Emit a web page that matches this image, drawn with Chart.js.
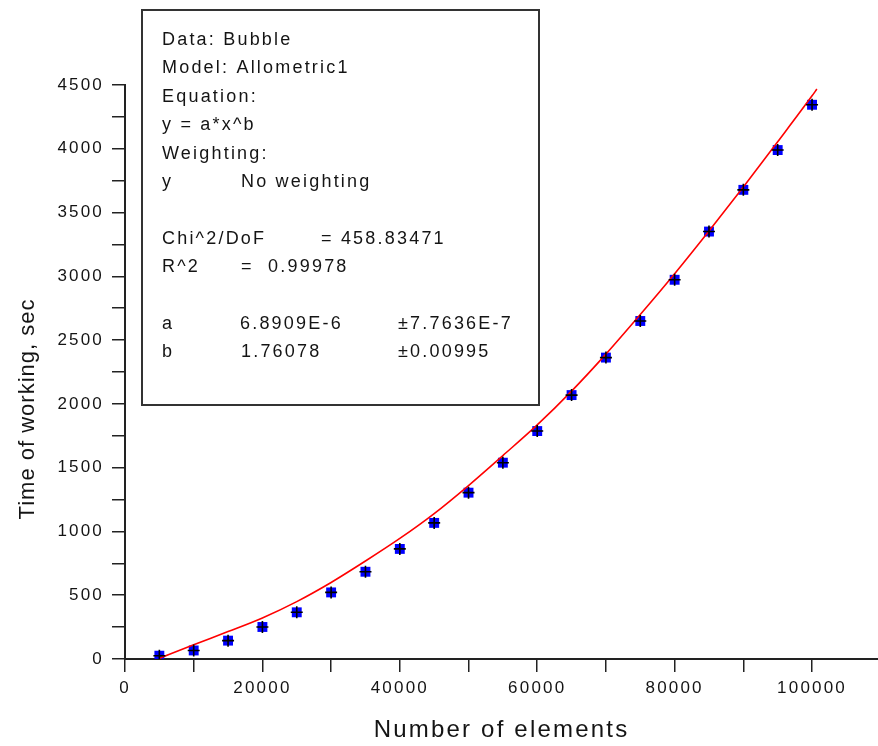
<!DOCTYPE html>
<html>
<head>
<meta charset="utf-8">
<script src="https://cdn.jsdelivr.net/npm/chart.js@4.4.1/dist/chart.umd.min.js"></script>
<style>
html,body{margin:0;padding:0;background:#ffffff;}
#wrap{width:878px;height:746px;position:relative;}
</style>
</head>
<body>
<div id="wrap"><canvas id="c" width="878" height="746"></canvas></div>
<script>
// ---- data ----
const elements = [5000,10000,15000,20000,25000,30000,35000,40000,45000,50000,
                  55000,60000,65000,70000,75000,80000,85000,90000,95000,100000];
const timeSec  = [26,67,144,251,366,522,684,863,1067,1304,
                  1539,1787,2069,2363,2650,2973,3351,3678,3990,4345];

// fitted curve (Allometric1)
const fitElements = [5000,10000,15000,20000,25000,30000,35000,40000,45000,50000,
                     55000,60000,65000,70000,75000,80000,85000,90000,95000,100000,100700];
const fitTime     = [5,112,215,322,450,600,768,945,1140,1360,
                     1595,1835,2100,2390,2700,3020,3355,3700,4055,4415,4468];

// axis ticks and labels
const xTickValues = [0,10000,20000,30000,40000,50000,60000,70000,80000,90000,100000];
const xTickLabels = ['0','','20000','','40000','','60000','','80000','','100000'];
const yTickValues = [0,250,500,750,1000,1250,1500,1750,2000,2250,2500,2750,3000,3250,3500,3750,4000,4250,4500];
const yTickLabels = ['0','','500','','1000','','1500','','2000','','2500','','3000','','3500','','4000','','4500'];
const xTitle = 'Number of elements';
const yTitle = 'Time of working, sec';

// fit report text (rows of columns)
const reportRows = [
  ['Data: Bubble'],
  ['Model: Allometric1'],
  ['Equation:'],
  ['y = a*x^b'],
  ['Weighting:'],
  ['y', 'No weighting'],
  [],
  ['Chi^2/DoF', '= 458.83471'],
  ['R^2', '=  0.99978'],
  [],
  ['a', '6.8909E-6', '\u00B17.7636E-7'],
  ['b', '1.76078', '\u00B10.00995']
];

// ---- presentation ----
const FONT = '"Liberation Sans", Arial, sans-serif';
const SPACING = '2.2px';
const INK = '#141414';
const reportCols = [[162],[162],[162],[162],[162],[162,241],[],[162,321],[162,241],[],[162,240,398],[162,241,398]];

const spacingPlugin = {
  id: 'spacing',
  beforeUpdate(chart){ chart.ctx.letterSpacing = SPACING; },
  beforeDraw(chart){ chart.ctx.letterSpacing = SPACING; }
};

const reportPlugin = {
  id: 'report',
  afterDraw(chart){
    const ctx = chart.ctx;
    ctx.save();
    ctx.strokeStyle = '#333333';
    ctx.lineWidth = 2;
    ctx.strokeRect(142, 10, 397, 395);
    ctx.font = '18px ' + FONT;
    ctx.letterSpacing = SPACING;
    ctx.fillStyle = INK;
    ctx.textBaseline = 'alphabetic';
    ctx.textAlign = 'left';
    reportRows.forEach((row, i) => {
      row.forEach((t, j) => {
        ctx.fillText(t, reportCols[i][j], 45 + i * 28.4);
      });
    });
    ctx.restore();
    // y axis title (sits below the axis centre in the reference)
    ctx.save();
    ctx.translate(28, 409);
    ctx.rotate(-Math.PI / 2);
    ctx.font = '22px ' + FONT;
    ctx.letterSpacing = '1px';
    ctx.fillStyle = INK;
    ctx.textAlign = 'center';
    ctx.textBaseline = 'middle';
    ctx.fillText(yTitle, 0, 0);
    ctx.restore();
  }
};

Chart.defaults.font.family = FONT;
Chart.defaults.color = INK;

new Chart(document.getElementById('c'), {
  type: 'scatter',
  data: {
    datasets: [
      { // black crosses on top
        data: elements.map((x, i) => ({x, y: timeSec[i]})),
        pointStyle: 'cross',
        pointRadius: 6,
        borderColor: '#000000',
        borderWidth: 1.6,
        backgroundColor: '#000000'
      },
      { // fitted curve
        data: fitElements.map((x, i) => ({x, y: fitTime[i]})),
        showLine: true,
        pointRadius: 0,
        borderColor: '#ff0000',
        borderWidth: 1.6,
        cubicInterpolationMode: 'monotone',
        fill: false
      },
      { // blue squares
        data: elements.map((x, i) => ({x, y: timeSec[i]})),
        pointStyle: 'rect',
        pointRadius: 7,
        backgroundColor: '#0000ff',
        borderColor: '#0000ff',
        borderWidth: 0
      }
    ]
  },
  options: {
    responsive: false,
    animation: false,
    devicePixelRatio: 1,
    layout: { autoPadding: false, padding: { top: 85, right: 0, bottom: 0, left: 0 } },
    plugins: { legend: { display: false }, tooltip: { enabled: false } },
    scales: {
      x: {
        type: 'linear',
        position: 'bottom',
        min: 0,
        max: 109600,
        border: { display: true, color: '#222222', width: 2 },
        grid: { drawOnChartArea: false, drawTicks: true, tickLength: 13, color: '#222222', lineWidth: 1.5 },
        ticks: {
          autoSkip: false, maxRotation: 0, color: INK,
          font: { size: 17 }, padding: 6,
          callback: (v, i) => xTickLabels[i]
        },
        afterBuildTicks: s => { s.ticks = xTickValues.map(v => ({value: v})); },
        afterFit: s => { s.height = 87; },
        title: { display: true, text: xTitle, color: INK, font: { size: 24 }, padding: { top: 0, bottom: 1 } }
      },
      y: {
        type: 'linear',
        min: 0,
        max: 4500,
        border: { display: true, color: '#222222', width: 2 },
        grid: { drawOnChartArea: false, drawTicks: true, tickLength: 13, color: '#222222', lineWidth: 1.5 },
        ticks: {
          autoSkip: false, color: INK,
          font: { size: 17 }, padding: 8,
          callback: (v, i) => yTickLabels[i]
        },
        afterBuildTicks: s => { s.ticks = yTickValues.map(v => ({value: v})); },
        afterFit: s => { s.width = 125; },
        title: { display: false }
      }
    }
  },
  plugins: [spacingPlugin, reportPlugin]
});
</script>
</body>
</html>
